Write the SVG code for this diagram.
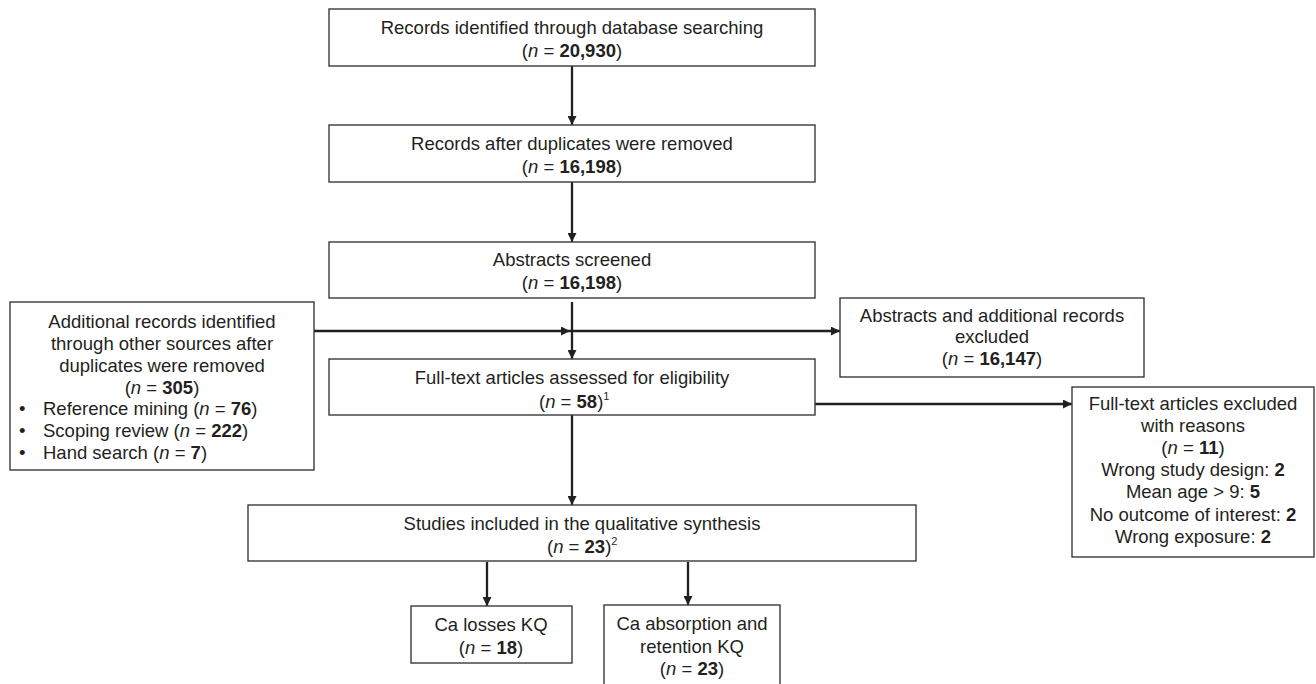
<svg xmlns="http://www.w3.org/2000/svg" width="1316" height="684" viewBox="0 0 1316 684">
<style>
.box{fill:#fff;stroke:#3a3a3a;stroke-width:1.4}
text{font-family:"Liberation Sans",Arial,sans-serif;font-size:18.5px;fill:#231f20}
.c{text-anchor:middle}
.b{font-weight:bold}
.i{font-style:italic}
.sup{font-size:11px}
.conn{stroke:#231f20;stroke-width:2.3;fill:none}
</style>
<defs>
<marker id="ah" viewBox="0 0 10 10" refX="10" refY="5" markerWidth="9" markerHeight="9" markerUnits="userSpaceOnUse" orient="auto">
<path d="M0,0 L10,5 L0,10 z" fill="#231f20"/>
</marker>
</defs>
<rect width="1316" height="684" fill="#fff"/>

<g id="connectors">
<path class="conn" d="M572,66 V125" marker-end="url(#ah)"/>
<path class="conn" d="M572,182 V242" marker-end="url(#ah)"/>
<path class="conn" d="M572,302 V359" marker-end="url(#ah)"/>
<path class="conn" d="M314,331 H570" marker-end="url(#ah)"/>
<path class="conn" d="M570,331 H840" marker-end="url(#ah)"/>
<path class="conn" d="M815,404 H1072" marker-end="url(#ah)"/>
<path class="conn" d="M572,415 V505" marker-end="url(#ah)"/>
<path class="conn" d="M487,562 V606" marker-end="url(#ah)"/>
<path class="conn" d="M688,562 V605" marker-end="url(#ah)"/>
</g>

<g id="n1">
<rect class="box" x="329" y="9" width="486" height="57"/>
<text class="c" x="572" y="34">Records identified through database searching</text>
<text class="c" x="572" y="57">(<tspan class="i">n</tspan> = <tspan class="b">20,930</tspan>)</text>
</g>

<g id="n2">
<rect class="box" x="329" y="125" width="486" height="57"/>
<text class="c" x="572" y="150">Records after duplicates were removed</text>
<text class="c" x="572" y="173">(<tspan class="i">n</tspan> = <tspan class="b">16,198</tspan>)</text>
</g>

<g id="n3">
<rect class="box" x="329" y="242" width="486" height="56"/>
<text class="c" x="572" y="266">Abstracts screened</text>
<text class="c" x="572" y="289">(<tspan class="i">n</tspan> = <tspan class="b">16,198</tspan>)</text>
</g>

<g id="n_left">
<rect class="box" x="10" y="302" width="304" height="168"/>
<text class="c" x="162" y="328">Additional records identified</text>
<text class="c" x="162" y="350">through other sources after</text>
<text class="c" x="162" y="372">duplicates were removed</text>
<text class="c" x="162" y="394">(<tspan class="i">n</tspan> = <tspan class="b">305</tspan>)</text>
<text x="19" y="415">•</text>
<text x="43" y="415">Reference mining (<tspan class="i">n</tspan> = <tspan class="b">76</tspan>)</text>
<text x="19" y="437">•</text>
<text x="43" y="437">Scoping review (<tspan class="i">n</tspan> = <tspan class="b">222</tspan>)</text>
<text x="19" y="459">•</text>
<text x="43" y="459">Hand search (<tspan class="i">n</tspan> = <tspan class="b">7</tspan>)</text>
</g>

<g id="n_absexcl">
<rect class="box" x="840" y="298" width="304" height="79"/>
<text class="c" x="992" y="322">Abstracts and additional records</text>
<text class="c" x="992" y="343">excluded</text>
<text class="c" x="992" y="365">(<tspan class="i">n</tspan> = <tspan class="b">16,147</tspan>)</text>
</g>

<g id="n4">
<rect class="box" x="329" y="359" width="486" height="56"/>
<text class="c" x="572" y="384">Full-text articles assessed for eligibility</text>
<text x="539" y="408">(<tspan class="i">n</tspan> = <tspan class="b">58</tspan>)<tspan class="sup" dy="-8">1</tspan></text>
</g>

<g id="n_ftexcl">
<rect class="box" x="1072" y="387" width="242" height="170"/>
<text class="c" x="1193" y="410">Full-text articles excluded</text>
<text class="c" x="1193" y="432">with reasons</text>
<text class="c" x="1193" y="454">(<tspan class="i">n</tspan> = <tspan class="b">11</tspan>)</text>
<text class="c" x="1193" y="476">Wrong study design: <tspan class="b">2</tspan></text>
<text class="c" x="1193" y="498">Mean age &gt; 9: <tspan class="b">5</tspan></text>
<text class="c" x="1193" y="521">No outcome of interest: <tspan class="b">2</tspan></text>
<text class="c" x="1193" y="543">Wrong exposure: <tspan class="b">2</tspan></text>
</g>

<g id="n5">
<rect class="box" x="248" y="505" width="668" height="56"/>
<text class="c" x="582" y="530">Studies included in the qualitative synthesis</text>
<text x="547" y="553">(<tspan class="i">n</tspan> = <tspan class="b">23</tspan>)<tspan class="sup" dy="-8">2</tspan></text>
</g>

<g id="n6">
<rect class="box" x="411" y="606" width="161" height="57"/>
<text class="c" x="491" y="631">Ca losses KQ</text>
<text class="c" x="491" y="654">(<tspan class="i">n</tspan> = <tspan class="b">18</tspan>)</text>
</g>

<g id="n7">
<rect class="box" x="604" y="605" width="176" height="84"/>
<text class="c" x="692" y="630">Ca absorption and</text>
<text class="c" x="692" y="653">retention KQ</text>
<text class="c" x="692" y="675">(<tspan class="i">n</tspan> = <tspan class="b">23</tspan>)</text>
</g>
</svg>
